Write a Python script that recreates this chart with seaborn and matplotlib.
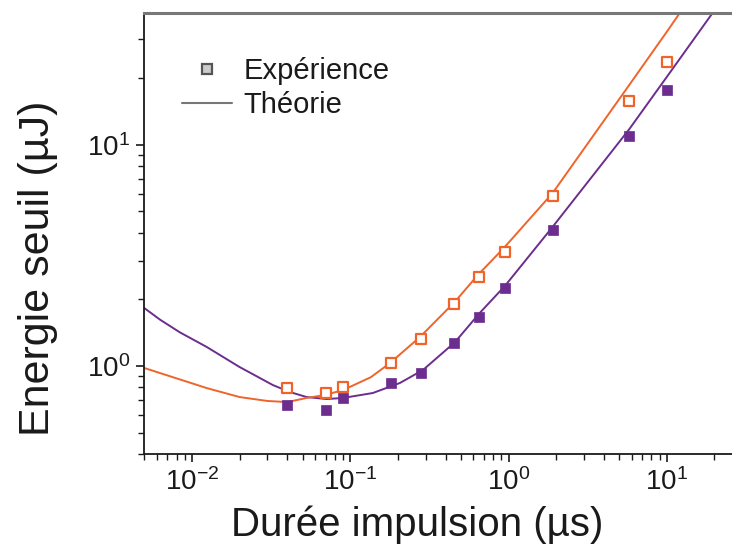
#!/usr/bin/env python3
# coding: utf-8
import matplotlib
matplotlib.use("Agg")
import pandas as pd
import seaborn as sns
import matplotlib.pyplot as plt
from matplotlib.lines import Line2D
from matplotlib.ticker import LogLocator, NullFormatter

# ------------------------------------------------
# Values
# ------------------------------------------------
duree_exp = [0.04, 0.07, 0.09, 0.18, 0.28, 0.45, 0.65, 0.95, 1.9, 5.8, 10.0]
energie_exp_orange = [0.795, 0.755, 0.80, 1.03, 1.32, 1.91, 2.53, 3.28, 5.88, 15.8, 23.8]
energie_exp_violet = [0.667, 0.632, 0.717, 0.838, 0.93, 1.27, 1.67, 2.25, 4.12, 11.0, 17.7]

duree_th_orange = [0.005, 0.0076, 0.0124, 0.020, 0.030, 0.040, 0.053, 0.069, 0.090,
                   0.135, 0.178, 0.275, 0.458, 0.64, 0.935, 1.9, 5.8, 10.0, 12.1]
energie_th_orange = [0.98, 0.89, 0.795, 0.724, 0.695, 0.687, 0.717, 0.739, 0.778,
                     0.89, 1.03, 1.35, 1.95, 2.58, 3.42, 6.06, 18.7, 32.5, 39.6]

duree_th_violet = [0.005, 0.0063, 0.0084, 0.0124, 0.020, 0.0325, 0.0416, 0.053, 0.071,
                   0.090, 0.139, 0.206, 0.288, 0.458, 0.659, 0.948, 1.9, 5.8, 9.7, 19.5]
energie_th_violet = [1.83, 1.62, 1.42, 1.22, 0.99, 0.82, 0.763, 0.724, 0.709,
                     0.717, 0.755, 0.838, 0.959, 1.28, 1.74, 2.30, 4.26, 11.8, 19.7, 39.6]

orange = "#f0642a"
violet = "#6b2d8e"
ink = "#1a1a1a"

# ------------------------------------------------
# Style
# ------------------------------------------------
sns.set_theme(style="ticks")
plt.rcParams['font.family'] = ['Liberation Sans', 'DejaVu Sans']
plt.rcParams['mathtext.default'] = 'regular'
plt.rcParams['axes.unicode_minus'] = False
plt.rcParams['text.color'] = ink
plt.rcParams['axes.labelcolor'] = ink
plt.rcParams['xtick.color'] = ink
plt.rcParams['ytick.color'] = ink

fig = plt.figure(figsize=(7.32, 5.53), dpi=100)
ax = fig.add_axes([0.197, 0.179, 0.803, 0.7975])
ax.set_xscale('log')
ax.set_yscale('log')

exp_o = pd.DataFrame({'x': duree_exp, 'y': energie_exp_orange})
exp_v = pd.DataFrame({'x': duree_exp, 'y': energie_exp_violet})
th_o = pd.DataFrame({'x': duree_th_orange, 'y': energie_th_orange})
th_v = pd.DataFrame({'x': duree_th_violet, 'y': energie_th_violet})

sns.lineplot(x='x', y='y', data=th_v, ax=ax, color=violet, linewidth=1.4, sort=False)
sns.lineplot(x='x', y='y', data=th_o, ax=ax, color=orange, linewidth=1.4, sort=False)
sns.scatterplot(x='x', y='y', data=exp_o, ax=ax, marker='s', s=50,
                facecolor='white', edgecolor=orange, linewidth=1.6, zorder=3)
sns.scatterplot(x='x', y='y', data=exp_v, ax=ax, marker='s', s=55,
                color=violet, edgecolor=violet, linewidth=0.5, zorder=3)

ax.set_xlim(0.005, 25.8)
ax.set_ylim(0.40, 39.5)

ax.xaxis.set_major_locator(LogLocator(base=10, numticks=10))
ax.xaxis.set_minor_locator(LogLocator(base=10, subs=range(2, 10), numticks=20))
ax.yaxis.set_minor_locator(LogLocator(base=10, subs=range(2, 10), numticks=20))
ax.xaxis.set_minor_formatter(NullFormatter())
ax.yaxis.set_minor_formatter(NullFormatter())

ax.tick_params(axis='both', which='major', direction='out', length=6, width=1.2,
               labelsize=20, pad=4)
ax.tick_params(axis='both', which='minor', direction='out', length=4, width=1.0)

for side in ['left', 'bottom']:
    ax.spines[side].set_color(ink)
    ax.spines[side].set_linewidth(1.3)
ax.spines['top'].set_color('#777777')
ax.spines['top'].set_linewidth(2.2)
ax.spines['right'].set_visible(False)

ax.set_xlabel('Durée impulsion (µs)', fontsize=29)
ax.set_ylabel('Energie seuil (µJ)', fontsize=31)
ax.xaxis.set_label_coords(0.464, -0.116)
ax.yaxis.set_label_coords(-0.147, 0.42)

handles = [
    Line2D([], [], linestyle='none', marker='s', markersize=7,
           markerfacecolor='#cccccc', markeredgecolor='#555555', markeredgewidth=1.6),
    Line2D([], [], color='#777777', linewidth=1.5),
]
ax.legend(handles, ['Expérience', 'Théorie'], loc='upper left', frameon=False,
          fontsize=21, handlelength=1.7, handletextpad=0.4, labelspacing=0.2,
          bbox_to_anchor=(0.035, 0.94), borderaxespad=0.2)

plt.savefig('out.png', dpi=100)
plt.close(fig)
